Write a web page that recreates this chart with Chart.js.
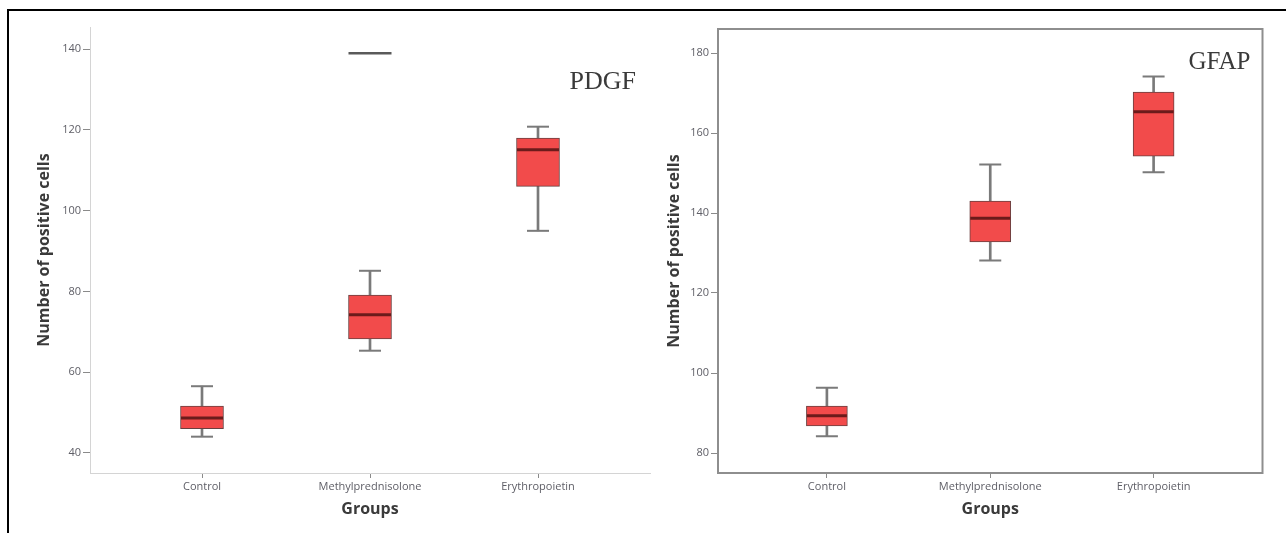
<!DOCTYPE html>
<html><head><meta charset="utf-8">
<script src="https://cdn.jsdelivr.net/npm/chart.js@4.4.1/dist/chart.umd.min.js"></script>
<style>
html,body{margin:0;padding:0;background:#fff;width:1286px;height:533px;overflow:hidden;}
#frame{position:absolute;left:7px;top:9px;width:1300px;height:540px;border-top:2px solid #000;border-left:2px solid #000;}
canvas{position:absolute;left:0;top:0;}
</style></head><body>
<div id="frame"></div>
<canvas id="c1" width="1286" height="533"></canvas>
<canvas id="c2" width="1286" height="533"></canvas>
<script>
// ---- data ----
const categories = ['Control', 'Methylprednisolone', 'Erythropoietin'];
const categoryPositions = [1, 2, 3];

const pdgfMin    = [44, 65.3, 95];
const pdgfQ1     = [46, 68.2, 106];
const pdgfMedian = [48.6, 74.2, 115.1];
const pdgfQ3     = [51.6, 79.1, 118];
const pdgfMax    = [56.5, 85.1, 120.8];
const pdgfExtreme = [null, 139, null];
const pdgfTicks  = [40, 60, 80, 100, 120, 140];

const gfapMin    = [84.2, 128.1, 150.2];
const gfapQ1     = [86.8, 132.8, 154.2];
const gfapMedian = [89.3, 138.7, 165.3];
const gfapQ3     = [91.7, 143, 170.2];
const gfapMax    = [96.3, 152.1, 174.1];
const gfapTicks  = [80, 100, 120, 140, 160, 180];

const FONT = "'Open Sans', 'DejaVu Sans', sans-serif";

function boxDatasets(mn, q1, med, q3, mx, extreme, boxW) {
  const sets = [
    { type: 'bar', label: 'whisker', order: 4, grouped: false, barThickness: 2,
      backgroundColor: '#7a7a7a', borderWidth: 0,
      data: categoryPositions.map((x, i) => ({ x, y: [mn[i], mx[i]] })) },
    { type: 'bar', label: 'box', order: 3, grouped: false, barThickness: boxW,
      backgroundColor: '#f24b4b', borderColor: '#6a4040', borderWidth: 1, borderSkipped: false,
      data: categoryPositions.map((x, i) => ({ x, y: [q1[i], q3[i]] })) },
    { type: 'line', label: 'caps', order: 2, showLine: false, pointStyle: 'line',
      pointRadius: 11, pointHoverRadius: 11, pointBorderWidth: 2, pointBorderColor: '#7a7a7a',
      data: categoryPositions.flatMap((x, i) => [{ x, y: mn[i] }, { x, y: mx[i] }]) },
    { type: 'line', label: 'median', order: 1, showLine: false, pointStyle: 'line',
      pointRadius: boxW / 2 - 0.5, pointHoverRadius: boxW / 2, pointBorderWidth: 3, pointBorderColor: '#6b1b1b',
      data: categoryPositions.map((x, i) => ({ x, y: med[i] })) }
  ];
  if (extreme) {
    sets.push({ type: 'line', label: 'extreme', order: 0, showLine: false, pointStyle: 'line',
      pointRadius: boxW / 2, pointHoverRadius: boxW / 2, pointBorderWidth: 2.5, pointBorderColor: '#5a5a5a',
      data: categoryPositions.map((x, i) => ({ x, y: extreme[i] })).filter(p => p.y !== null) });
  }
  return sets;
}

const panelDecor = {
  id: 'panelDecor',
  beforeDatasetsDraw(chart, args, opts) {
    if (!opts.frame) return;
    const { left, top, right, bottom } = chart.chartArea;
    const ctx = chart.ctx;
    ctx.save();
    ctx.strokeStyle = '#8e8e8e';
    ctx.lineWidth = 2;
    ctx.strokeRect(left, top, right - left, bottom - top);
    ctx.restore();
  },
  afterDraw(chart, args, opts) {
    if (!opts.text) return;
    const { top, right } = chart.chartArea;
    const ctx = chart.ctx;
    ctx.save();
    ctx.font = opts.font;
    ctx.fillStyle = '#3a3a3a';
    ctx.textAlign = 'right';
    ctx.textBaseline = 'middle';
    ctx.fillText(opts.text, right - opts.dx, top + opts.dy);
    ctx.restore();
  }
};

function makeChart(id, cfg) {
  return new Chart(document.getElementById(id), {
    type: 'bar',
    data: { datasets: boxDatasets(cfg.mn, cfg.q1, cfg.med, cfg.q3, cfg.mx, cfg.extreme, cfg.boxW) },
    plugins: [panelDecor],
    options: {
      responsive: false, animation: false, devicePixelRatio: 1,
      layout: { padding: cfg.padding },
      plugins: {
        legend: { display: false }, tooltip: { enabled: false },
        panelDecor: { frame: cfg.frame, text: cfg.label, font: cfg.labelFont, dx: cfg.labelDx, dy: cfg.labelDy }
      },
      scales: {
        x: {
          type: 'linear', min: 1 / 3, max: 11 / 3, offset: false,
          afterBuildTicks: s => { s.ticks = categoryPositions.map(v => ({ value: v })); },
          afterFit: s => { s.height = 60; },
          grid: { offset: false, drawOnChartArea: false, drawTicks: true, tickLength: 5, tickColor: '#8a8a8a', tickWidth: 1 },
          border: { display: true, color: cfg.axisColor, width: cfg.axisWidth },
          ticks: { padding: 2, color: '#5e5e66', font: { family: FONT, size: 11 },
                   maxRotation: 0, autoSkip: false,
                   callback: v => categories[categoryPositions.indexOf(v)] },
          title: { display: true, text: 'Groups', color: '#3a3a3a',
                   font: { family: FONT, size: 16, weight: 'bold' }, padding: { top: 0, bottom: 14 } }
        },
        y: {
          type: 'linear', min: cfg.yMin, max: cfg.yMax,
          afterBuildTicks: s => { s.ticks = cfg.ticks.map(v => ({ value: v })); },
          afterFit: s => { s.width = cfg.yWidth; },
          grid: { drawOnChartArea: false, drawTicks: true, tickLength: 7, tickColor: '#8a8a8a', tickWidth: 1 },
          border: { display: true, color: cfg.axisColor, width: cfg.axisWidth },
          ticks: { padding: 2, color: '#5e5e66', font: { family: FONT, size: 11 } },
          title: { display: true, text: 'Number of positive cells', color: '#3a3a3a',
                   font: { family: FONT, size: 16, weight: 'bold' }, padding: { top: cfg.yTitlePad, bottom: 0 } }
        }
      }
    }
  });
}

makeChart('c1', {
  mn: pdgfMin, q1: pdgfQ1, med: pdgfMedian, q3: pdgfQ3, mx: pdgfMax, extreme: pdgfExtreme, boxW: 43,
  padding: { left: 0, right: 636, top: 27, bottom: 0 },
  yMin: 35, yMax: 145.5, ticks: pdgfTicks, yWidth: 90, yTitlePad: 35,
  axisColor: '#d4d4d4', axisWidth: 1, frame: false,
  label: 'PDGF', labelFont: "26px 'Liberation Serif', 'Times New Roman', serif", labelDx: 14, labelDy: 55
});

makeChart('c2', {
  mn: gfapMin, q1: gfapQ1, med: gfapMedian, q3: gfapQ3, mx: gfapMax, extreme: null, boxW: 41,
  padding: { left: 640, right: 23, top: 29, bottom: 0 },
  yMin: 75, yMax: 186, ticks: gfapTicks, yWidth: 78, yTitlePad: 25,
  axisColor: '#8e8e8e', axisWidth: 2, frame: true,
  label: 'GFAP', labelFont: "25px 'Liberation Serif', 'Times New Roman', serif", labelDx: 12, labelDy: 33
});
</script>
</body></html>
